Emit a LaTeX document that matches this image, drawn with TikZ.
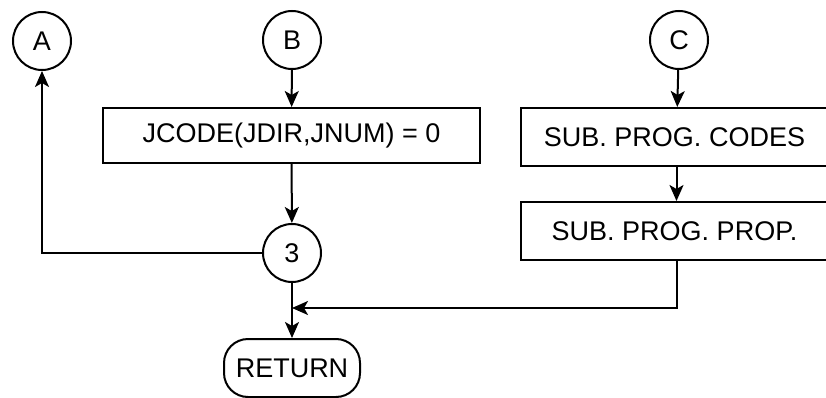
\documentclass[tikz,border=0pt]{standalone}
\usepackage{fontspec}
\setmainfont{Liberation Sans}
\usetikzlibrary{arrows.meta}
\begin{document}
\begin{tikzpicture}[x=1pt,y=-1pt,
  every node/.style={font=\fontsize{27}{30}\selectfont, inner sep=0pt},
  conn/.style={draw, circle, line width=2pt, minimum size=58pt},
  procbox/.style={draw, rectangle, line width=2pt},
  term/.style={draw, rectangle, rounded corners=24pt, line width=2pt, minimum width=136pt, minimum height=58pt},
  flow/.style={line width=2pt, -{Stealth[length=16pt,width=14pt,inset=4pt]}},
  line/.style={line width=2pt}]
\useasboundingbox (0,0) rectangle (826,398);
\node[conn] (A) at (42,41) {A};
\node[conn] (B) at (292,40) {B};
\node[conn] (C) at (679,40) {C};
\node[procbox, minimum width=377pt, minimum height=55pt] (jc) at (291.5,135.5) {JCODE(JDIR,JNUM) = 0};
\node[procbox, minimum width=311pt, minimum height=58pt] (codes) at (676.5,137) {\hspace*{-4pt}SUB. PROG. CODES};
\node[procbox, minimum width=311pt, minimum height=58pt] (prop) at (676.5,231) {\hspace*{-4pt}SUB. PROG. PROP.};
\node[conn] (n3) at (292,253) {3};
\node[term] (ret) at (292,368) {RETURN};
\coordinate (m) at (292,308);
\draw[flow] (B) -- (jc);
\draw[flow] (jc) -- (n3);
\draw[flow] (n3.west) -- (A.south |- n3.west) -- (A.south);
\draw[flow] (n3) -- (ret);
\draw[flow] (C) -- (codes);
\draw[flow] (codes) -- (prop);
\draw[flow] (prop.south) |- (m);
\end{tikzpicture}
\end{document}
